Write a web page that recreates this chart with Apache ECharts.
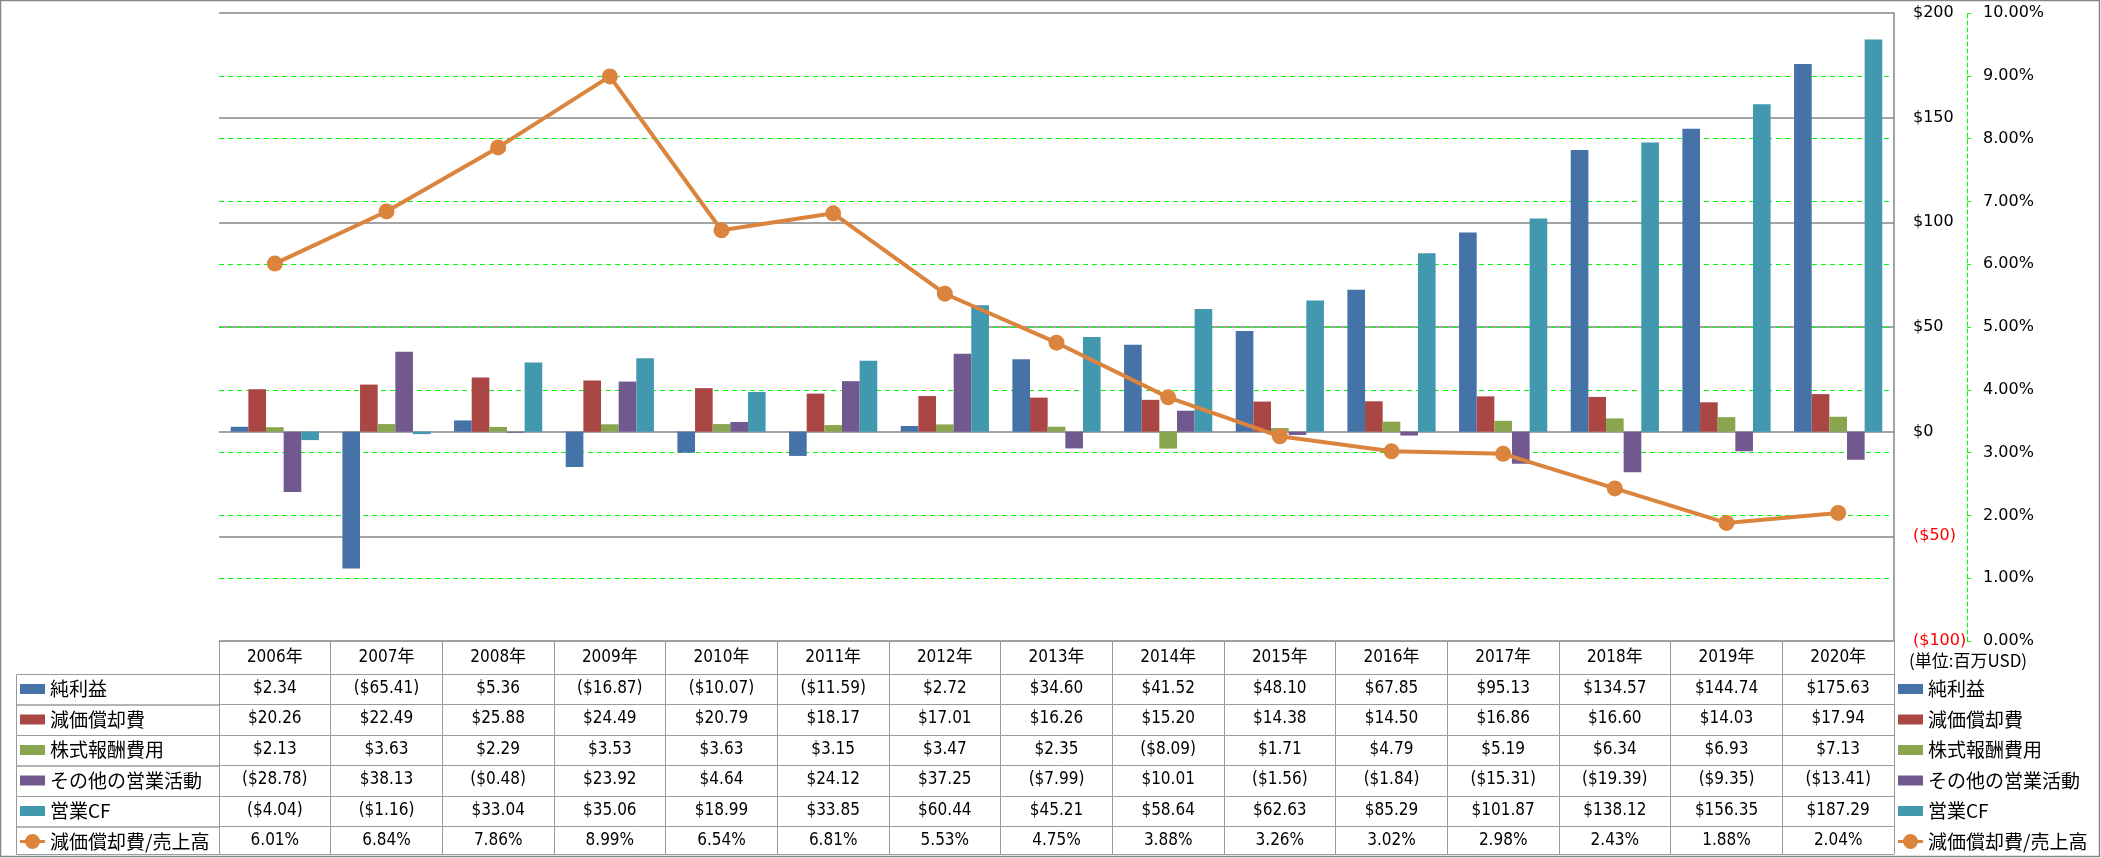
<!DOCTYPE html>
<html>
<head>
<meta charset="utf-8">
<script src="https://cdn.jsdelivr.net/npm/echarts@6/dist/echarts.min.js"></script>
<style>
html,body{margin:0;padding:0;background:#fff;}
#chart{width:2101px;height:858px;}
</style>
</head>
<body>
<div id="chart"></div>
<script>
const categories = ['2006年','2007年','2008年','2009年','2010年','2011年','2012年','2013年','2014年','2015年','2016年','2017年','2018年','2019年','2020年'];
const netIncome = [2.34,-65.41,5.36,-16.87,-10.07,-11.59,2.72,34.60,41.52,48.10,67.85,95.13,134.57,144.74,175.63];
const depreciation = [20.26,22.49,25.88,24.49,20.79,18.17,17.01,16.26,15.20,14.38,14.50,16.86,16.60,14.03,17.94];
const stockComp = [2.13,3.63,2.29,3.53,3.63,3.15,3.47,2.35,-8.09,1.71,4.79,5.19,6.34,6.93,7.13];
const otherOps = [-28.78,38.13,-0.48,23.92,4.64,24.12,37.25,-7.99,10.01,-1.56,-1.84,-15.31,-19.39,-9.35,-13.41];
const operatingCF = [-4.04,-1.16,33.04,35.06,18.99,33.85,60.44,45.21,58.64,62.63,85.29,101.87,138.12,156.35,187.29];
const depRatio = [6.01,6.84,7.86,8.99,6.54,6.81,5.53,4.75,3.88,3.26,3.02,2.98,2.43,1.88,2.04];
const seriesNames = ['純利益','減価償却費','株式報酬費用','その他の営業活動','営業CF','減価償却費/売上高'];
const unitLabel = '(単位:百万USD)';

const colors = ['#4572A7','#AA4643','#89A54E','#71588F','#4198AF','#DB843D'];
const tableFont = "'Liberation Sans Narrow','DejaVu Sans Condensed','Noto Sans CJK JP',sans-serif";
const jpFont = "'Noto Sans CJK JP',sans-serif";
const axisFont = "'DejaVu Sans',sans-serif";
const borderColor = '#9a9a9a';

const fmtMoney = v => v < 0 ? '($' + (-v).toFixed(2) + ')' : '$' + v.toFixed(2);
const fmtPct = v => v.toFixed(2) + '%';

// layout
const W = 2101, H = 858;
const gridLeft = 219, gridRight = 1894, gridTop = 13, gridBottom = 641;
const headerH = 33, rowH = 30.5, lastRowH = 27.5;
const tableLeft = 16;

const rowData = [netIncome, depreciation, stockComp, otherOps, operatingCF, depRatio];
const rowFmt = [fmtMoney, fmtMoney, fmtMoney, fmtMoney, fmtMoney, fmtPct];

const xAxes = [{
  type: 'category', gridIndex: 0, position: 'bottom', offset: 0,
  data: categories,
  axisLine: {show: true, onZero: false, lineStyle: {color: borderColor, width: 1}},
  axisTick: {show: true, length: headerH, lineStyle: {color: borderColor}},
  axisLabel: {show: true, interval: 0, margin: 8, fontFamily: tableFont, fontSize: 17, color: '#000'},
  splitLine: {show: false}
}];
let off = headerH;
rowData.forEach((arr, i) => {
  const h = i === rowData.length - 1 ? lastRowH : rowH;
  xAxes.push({
    type: 'category', gridIndex: 0, position: 'bottom', offset: off,
    data: arr.map(rowFmt[i]),
    axisLine: {show: true, onZero: false, lineStyle: {color: borderColor, width: 1}},
    axisTick: {show: true, length: h, lineStyle: {color: borderColor}},
    axisLabel: {show: true, interval: 0, margin: 6, fontFamily: tableFont, fontSize: 17, color: '#000'},
    splitLine: {show: false}
  });
  off += h;
});
// closing bottom line
xAxes.push({
  type: 'category', gridIndex: 0, position: 'bottom', offset: off,
  data: categories,
  axisLine: {show: true, onZero: false, lineStyle: {color: borderColor, width: 1}},
  axisTick: {show: false}, axisLabel: {show: false}, splitLine: {show: false}
});

// left column cell borders
const graphics = [];
let y = gridBottom + headerH;
rowData.forEach((arr, i) => {
  const h = i === rowData.length - 1 ? lastRowH : rowH;
  graphics.push({type: 'rect', silent: true, shape: {x: tableLeft + 0.5, y: y + 0.5, width: gridLeft - tableLeft, height: h},
    style: {fill: 'none', stroke: borderColor, lineWidth: 1}});
  y += h;
});
graphics.push({type: 'rect', silent: true, z: 100, shape: {x: 0.5, y: 0.5, width: W - 2, height: H - 2},
  style: {fill: 'none', stroke: '#868686', lineWidth: 1.5}});
graphics.push({type: 'text', silent: true, left: 1909, top: 652,
  style: {text: unitLabel, font: "17px 'Noto Sans CJK JP',sans-serif", fill: '#000'}});

// legend icons (bounding moves keep the glyph proportions inside a 25x16 box)
const rectIcon = 'path://M0,0M25,16M0,3L25,3L25,13L0,13Z';
const lineIcon = 'path://M0,0M25,16M0,6.5L25,6.5L25,9.5L0,9.5Z M12.5,0.5A7.5,7.5 0 1 1 12.5,15.5A7.5,7.5 0 1 1 12.5,0.5Z';
const legendData = seriesNames.map((n, i) => ({name: n, icon: i < 5 ? rectIcon : lineIcon}));
const legendBase = {
  orient: 'vertical', top: 679, itemWidth: 25, itemHeight: 16, itemGap: 10.5,
  selectedMode: false, data: legendData, padding: 0,
  textStyle: {fontFamily: jpFont, fontSize: 19, lineHeight: 20, color: '#000', padding: [0,0,0,0]}
};

const barSeries = [netIncome, depreciation, stockComp, otherOps, operatingCF].map((d, i) => ({
  name: seriesNames[i], type: 'bar', xAxisIndex: 0, yAxisIndex: 0, data: d,
  barGap: '0%', barCategoryGap: '21%',
  itemStyle: {color: colors[i]}
}));

const option = {
  animation: false,
  backgroundColor: '#fff',
  grid: {left: gridLeft, right: W - gridRight, top: gridTop, bottom: H - gridBottom, containLabel: false},
  legend: [
    Object.assign({}, legendBase, {left: tableLeft + 4}),
    Object.assign({}, legendBase, {left: 1898})
  ],
  xAxis: xAxes,
  yAxis: [{
    type: 'value', position: 'right', min: -100, max: 200, interval: 50,
    axisLine: {show: true, lineStyle: {color: '#868686', width: 1.5}},
    axisTick: {show: false},
    axisLabel: {margin: 19, fontFamily: axisFont, fontSize: 16,
      color: v => (Number(v) < 0 ? '#FF0000' : '#000'),
      formatter: v => v < 0 ? '($' + (-v) + ')' : '$' + v},
    splitLine: {show: true, lineStyle: {color: '#868686', width: 1.5}}
  }, {
    type: 'value', position: 'right', offset: 73, min: 0, max: 10, interval: 1,
    axisLine: {show: true, lineStyle: {color: '#00FF00', width: 1, type: [4, 3]}},
    axisTick: {show: true, inside: false, length: 4, lineStyle: {color: '#00FF00'}},
    axisLabel: {margin: 16, fontFamily: axisFont, fontSize: 16, color: '#000', formatter: v => v.toFixed(2) + '%'},
    splitLine: {show: true, showMinLine: false, showMaxLine: false,
      lineStyle: {color: '#00FF00', width: 1.2, type: [5, 4]}}
  }],
  series: barSeries.concat([{
    name: seriesNames[5], type: 'line', xAxisIndex: 0, yAxisIndex: 1, data: depRatio,
    symbol: 'circle', symbolSize: 16, z: 5,
    lineStyle: {color: colors[5], width: 4},
    itemStyle: {color: colors[5]}
  }]),
  graphic: graphics
};

const chart = echarts.init(document.getElementById('chart'), null, {renderer: 'canvas'});
chart.setOption(option);
</script>
</body>
</html>
